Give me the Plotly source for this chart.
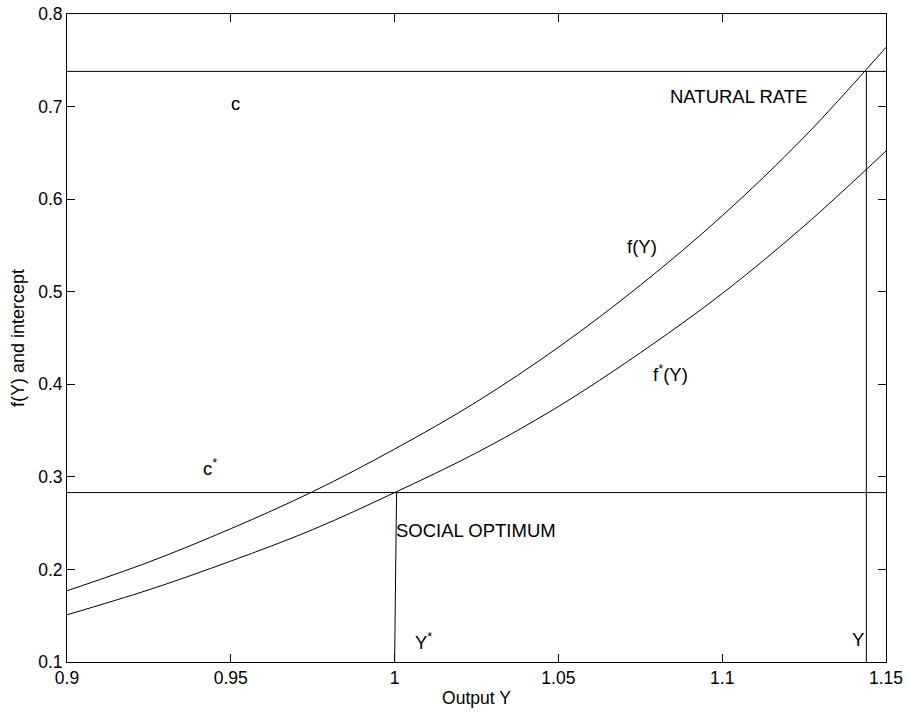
import plotly.graph_objects as go

# Output grid (x) and curve values
output_y = [0.9, 0.925, 0.95, 0.975, 1.0, 1.025, 1.05, 1.075, 1.1, 1.125, 1.15]
f_values = [0.177, 0.208, 0.244, 0.284, 0.330, 0.381, 0.440, 0.507, 0.582, 0.667, 0.764]
fstar_values = [0.151, 0.178, 0.209, 0.243, 0.283, 0.326, 0.376, 0.434, 0.498, 0.571, 0.652]

# Intercept levels
natural_rate_c = 0.738
social_opt_c = 0.283

# Vertical markers
y_star_x = [1.0, 1.0006]
y_star_y = [0.1, 0.283]
y_nat_x = [1.144, 1.144]
y_nat_y = [0.1, 0.738]

x_range = [0.9, 1.15]
y_range = [0.1, 0.8]
x_ticks = [0.9, 0.95, 1.0, 1.05, 1.1, 1.15]
x_tick_text = ["0.9", "0.95", "1", "1.05", "1.1", "1.15"]
y_ticks = [0.1, 0.2, 0.3, 0.4, 0.5, 0.6, 0.7, 0.8]
y_tick_text = ["0.1", "0.2", "0.3", "0.4", "0.5", "0.6", "0.7", "0.8"]

FONT = "Liberation Sans, Arial, Helvetica, sans-serif"
line_style = dict(color="black", width=1)

fig = go.Figure()
fig.add_trace(go.Scatter(x=[x_range[0], x_range[1]], y=[natural_rate_c, natural_rate_c],
                         mode="lines", line=line_style, hoverinfo="skip"))
fig.add_trace(go.Scatter(x=[x_range[0], x_range[1]], y=[social_opt_c, social_opt_c],
                         mode="lines", line=line_style, hoverinfo="skip"))
fig.add_trace(go.Scatter(x=output_y, y=f_values, mode="lines",
                         line=dict(color="black", width=1, shape="spline", smoothing=1.0)))
fig.add_trace(go.Scatter(x=output_y, y=fstar_values, mode="lines",
                         line=dict(color="black", width=1, shape="spline", smoothing=1.0)))
fig.add_trace(go.Scatter(x=y_star_x, y=y_star_y, mode="lines", line=line_style))
fig.add_trace(go.Scatter(x=y_nat_x, y=y_nat_y, mode="lines", line=line_style))

labels = [
    (0.9515, 0.703, "c", "center"),
    (0.9408, 0.3103, "c<sup>*</sup>", "left"),
    (1.0834, 0.7105, "NATURAL RATE", "left"),
    (0.9998, 0.2424, "SOCIAL OPTIMUM", "left"),
    (1.0703, 0.5487, "f(Y)", "left"),
    (1.0784, 0.4125, "f<sup>*</sup>(Y)", "left"),
    (1.0056, 0.1225, "Y<sup>*</sup>", "left"),
    (1.139, 0.1245, "Y", "left"),
]
for lx, ly, txt, anchor in labels:
    fig.add_annotation(x=lx, y=ly, text=txt, showarrow=False, xanchor=anchor,
                       yanchor="middle", font=dict(family=FONT, size=18.5, color="black"))

axis_common = dict(showline=True, linecolor="black", linewidth=1, mirror="ticks",
                   ticks="inside", ticklen=8, tickcolor="black", tickwidth=1,
                   showgrid=False, zeroline=False,
                   tickfont=dict(family=FONT, size=17.5, color="black"))

fig.update_layout(
    width=909, height=713, autosize=False,
    margin=dict(l=67, r=23, t=14, b=51),
    paper_bgcolor="white", plot_bgcolor="white",
    showlegend=False,
    xaxis=dict(range=x_range, tickvals=x_ticks, ticktext=x_tick_text,
               title=dict(text="Output Y", font=dict(family=FONT, size=17.5, color="black"),
                          standoff=4),
               automargin=False, **axis_common),
    yaxis=dict(range=y_range, tickvals=y_ticks, ticktext=y_tick_text,
               title=dict(text="f(Y) and intercept", font=dict(family=FONT, size=18, color="black"),
                          standoff=8),
               automargin=False, **axis_common),
)

fig.write_html("out.html")
